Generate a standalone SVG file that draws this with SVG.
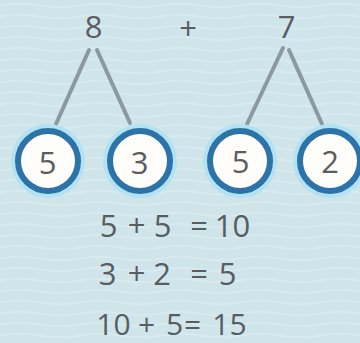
<svg xmlns="http://www.w3.org/2000/svg" width="360" height="343" viewBox="0 0 360 343">
  <defs>
    <pattern id="waves" width="80" height="11" patternUnits="userSpaceOnUse">
      <path d="M0 5.5 Q20 2 40 5.5 T80 5.5" fill="none" stroke="#e2f1f4" stroke-width="2" opacity="0.45"/>
    </pattern>
  </defs>
  <style>
    .t { font-family: "Open Sans", "Liberation Sans", sans-serif; font-size: 31px; fill: #585d62; text-anchor: middle; }
    .s { font-size: 30px; }
    .edge { stroke: #8c98a2; stroke-width: 4; stroke-linecap: round; fill: none; }
    .glow { fill: #b3e2f3; }
    .ring { fill: #fffdf9; stroke: #2b73a9; stroke-width: 6; }
  </style>
  <rect width="360" height="343" fill="#cfe5ea"/>
  <rect width="360" height="343" fill="url(#waves)"/>

  <g id="connectors">
    <line class="edge" x1="89" y1="50" x2="56" y2="124"/>
    <line class="edge" x1="97" y1="50" x2="130" y2="123"/>
    <line class="edge" x1="283" y1="48" x2="247" y2="124"/>
    <line class="edge" x1="289" y1="50" x2="322" y2="124"/>
  </g>

  <g id="top-8"><text class="t" x="93.5" y="38">8</text></g>
  <g id="top-plus"><text class="t" x="188" y="40">+</text></g>
  <g id="top-7"><text class="t" x="286.5" y="38">7</text></g>

  <g id="circle-5a">
    <circle class="glow" cx="48" cy="161" r="37"/>
    <circle class="ring" cx="48" cy="161" r="30"/>
    <text class="t" x="47.5" y="174">5</text>
  </g>
  <g id="circle-3">
    <circle class="glow" cx="140" cy="161" r="37"/>
    <circle class="ring" cx="140" cy="161" r="30"/>
    <text class="t" x="139.5" y="174">3</text>
  </g>
  <g id="circle-5b">
    <circle class="glow" cx="240" cy="161" r="37"/>
    <circle class="ring" cx="240" cy="161" r="30"/>
    <text class="t" x="240.5" y="173">5</text>
  </g>
  <g id="circle-2">
    <circle class="glow" cx="330" cy="161" r="37"/>
    <circle class="ring" cx="330" cy="161" r="30"/>
    <text class="t" x="330" y="173">2</text>
  </g>

  <g id="equations">
    <text class="t" x="108.5" y="237">5</text>
    <text class="t" x="136.5" y="237">+</text>
    <text class="t" x="162.5" y="237">5</text>
    <text class="t" x="199" y="237">=</text>
    <text class="t" x="232.5" y="237">10</text>

    <text class="t" x="107.5" y="285">3</text>
    <text class="t" x="136.5" y="285">+</text>
    <text class="t" x="162" y="285">2</text>
    <text class="t" x="199" y="285">=</text>
    <text class="t" x="227.5" y="285">5</text>

    <text class="t s" x="113.5" y="335">10</text>
    <text class="t s" x="146.5" y="335">+</text>
    <text class="t s" x="174.5" y="335">5</text>
    <text class="t s" x="192.5" y="335">=</text>
    <text class="t s" x="229.5" y="335">15</text>
  </g>
</svg>
